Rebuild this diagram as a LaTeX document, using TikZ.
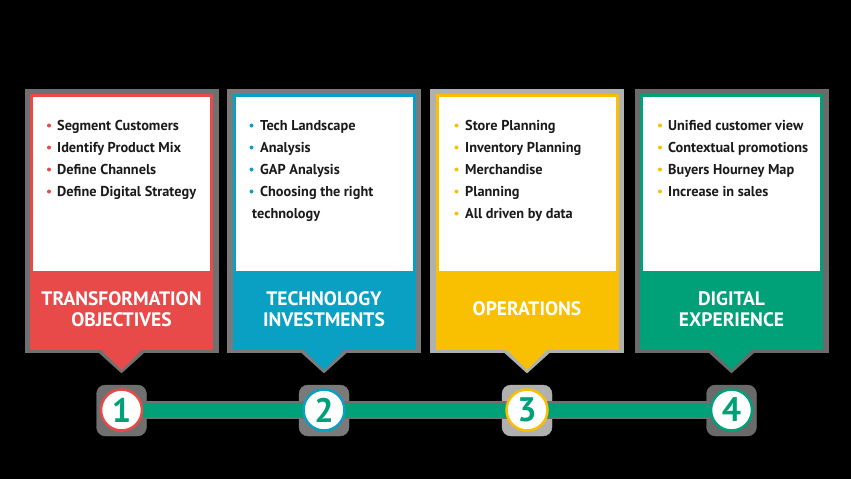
\documentclass[tikz,border=0pt]{standalone}
\usepackage{fontspec}
\setmainfont{PT Sans}
\usetikzlibrary{backgrounds}

\definecolor{cRed}{HTML}{E84A4A}
\definecolor{cBlue}{HTML}{0AA0C4}
\definecolor{cYellow}{HTML}{F8C000}
\definecolor{cGreen}{HTML}{00A078}
\definecolor{hRed}{HTML}{707070}
\definecolor{hBlue}{HTML}{7A7A7A}
\definecolor{hYellow}{HTML}{B0B0B0}
\definecolor{hGreen}{HTML}{6A6A6A}
\definecolor{textDark}{HTML}{1A1A1A}

\tikzset{
  halo/.style={fill=#1,draw=#1},
  item/.style={anchor=base west,inner sep=0pt,text=textDark,
    font=\fontsize{14.3}{16}\selectfont\bfseries},
  title/.style={align=center,text=white,inner sep=0pt,
    font=\fontsize{19.5}{21}\selectfont\bfseries},
  stepnum/.style={circle,draw=#1,line width=2.5pt,fill=white,
    minimum size=41pt,inner sep=0pt,text=cGreen,
    font=\fontsize{34}{34}\selectfont\bfseries},
  link/.style={cGreen,line width=14pt}
}

\begin{document}
\begin{tikzpicture}[x=1pt,y=-1pt]
  \useasboundingbox (0,0) rectangle (851,479);
  \begin{scope}[on background layer]
    \fill[black] (0,0) rectangle (851,479);
  \end{scope}

  % the four cards with their step circles
  \foreach \n/\xl/\col/\hc/\ttl in {1/30/cRed/hRed/{TRANSFORMATION\\OBJECTIVES},
      2/232.5/cBlue/hBlue/{TECHNOLOGY\\INVESTMENTS},
      3/435.5/cYellow/hYellow/{OPERATIONS},
      4/640/cGreen/hGreen/{DIGITAL\\EXPERIENCE}}
  {
    \pgfmathsetmacro\xc{\xl+91.5}
    \begin{scope}[on background layer]
      \fill[halo=\hc] (\xl-5,89) rectangle (\xl+188,352);
      \filldraw[halo=\hc,line width=5pt,line join=miter]
        (\xc-21,351) -- (\xc+21,351) -- (\xc,370) -- cycle;
      \fill[halo=\hc,rounded corners=9pt] (\xc-25,385) rectangle (\xc+25,436);
    \end{scope}
    \fill[\col] (\xl,94) rectangle (\xl+183,350);
    \fill[white] (\xl+3,97) rectangle (\xl+180,271);
    \fill[\col] (\xc-21,349) -- (\xc+21,349) -- (\xc,370) -- cycle;
    \node[title] (t\n) at (\xc,309) {\ttl};
    \node[stepnum=\col] (num\n) at (\xc,410) {\n};
  }

  % bullet lists
  \foreach \txt [count=\k] in {Segment Customers, Identify Product Mix,
      Define Channels, Define Digital Strategy}
  {
    \fill[cRed] (49,103.5+22*\k) circle (2pt);
    \node[item] (a\k) at (57,108+22*\k) {\txt};
  }
  \foreach \txt [count=\k] in {Tech Landscape, Analysis, GAP Analysis,
      Choosing the right}
  {
    \fill[cBlue] (251.5,103.5+22*\k) circle (2pt);
    \node[item] (b\k) at (260,108+22*\k) {\txt};
  }
  \node[item] (b5) at (252,218) {technology};
  \foreach \txt [count=\k] in {Store Planning, Inventory Planning,
      Merchandise, Planning, All driven by data}
  {
    \fill[cYellow] (456.5,103.5+22*\k) circle (2pt);
    \node[item] (c\k) at (465,108+22*\k) {\txt};
  }
  \foreach \txt [count=\k] in {Unified customer view, Contextual promotions,
      Buyers Hourney Map, Increase in sales}
  {
    \fill[cYellow] (660,103.5+22*\k) circle (2pt);
    \node[item] (d\k) at (668,108+22*\k) {\txt};
  }

  % timeline
  \begin{scope}[on background layer]
    \draw[hRed,line width=18pt] (num1) -- (num4);
    \draw[link] (num1) -- (num4);
  \end{scope}
\end{tikzpicture}
\end{document}
